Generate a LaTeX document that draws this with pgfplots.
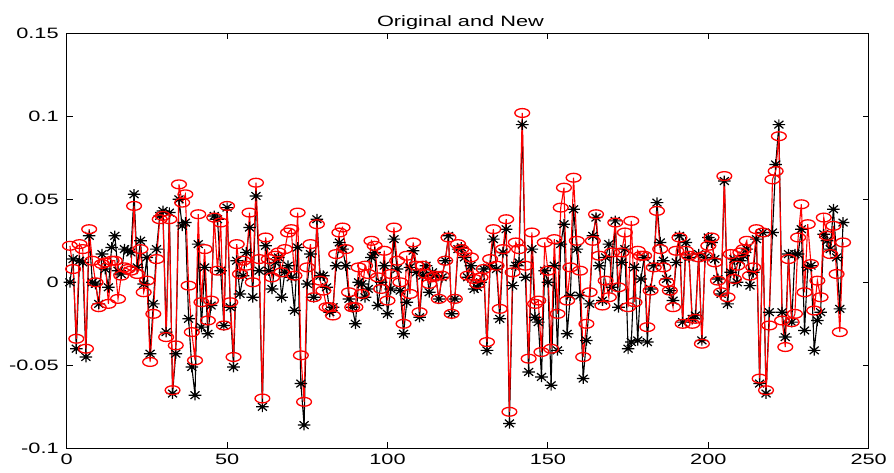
\documentclass[border=0pt]{standalone}
\usepackage{fontspec}
\setmainfont{Liberation Sans}
\usepackage{pgfplots}
\usepackage{pgfplotstable}
\pgfplotsset{compat=1.18}

% MATLAB-like markers (the reference is stretched horizontally)
\pgfdeclareplotmark{mstar}{%
  \pgfpathmoveto{\pgfqpoint{-6.3pt}{0pt}}\pgfpathlineto{\pgfqpoint{6.3pt}{0pt}}%
  \pgfpathmoveto{\pgfqpoint{0pt}{-5.3pt}}\pgfpathlineto{\pgfqpoint{0pt}{5.3pt}}%
  \pgfpathmoveto{\pgfqpoint{-4.5pt}{-3.8pt}}\pgfpathlineto{\pgfqpoint{4.5pt}{3.8pt}}%
  \pgfpathmoveto{\pgfqpoint{-4.5pt}{3.8pt}}\pgfpathlineto{\pgfqpoint{4.5pt}{-3.8pt}}%
  \pgfusepathqstroke}
\pgfdeclareplotmark{mcirc}{%
  \pgfpathellipse{\pgfpointorigin}{\pgfqpoint{7.4pt}{0pt}}{\pgfqpoint{0pt}{4.4pt}}%
  \pgfusepathqstroke}

\pgfplotstableread{
x b r
1 0.000 0.022
2 0.014 0.008
3 -0.040 -0.034
4 0.013 0.023
5 0.012 0.020
6 -0.045 -0.040
7 0.028 0.032
8 0.000 0.013
9 -0.001 0.000
10 -0.013 -0.015
11 0.017 0.011
12 0.008 0.012
13 -0.003 -0.013
14 0.021 0.013
15 0.028 0.013
16 0.007 -0.010
17 0.005 0.004
18 0.020 0.009
19 0.019 0.008
20 0.018 0.007
21 0.053 0.046
22 0.009 0.005
23 0.025 0.020
24 -0.001 -0.006
25 0.015 0.001
26 -0.043 -0.048
27 -0.013 -0.019
28 0.020 0.014
29 0.040 0.038
30 0.043 0.040
31 -0.030 -0.033
32 0.042 0.038
33 -0.067 -0.065
34 -0.043 -0.038
35 0.050 0.059
36 0.034 0.048
37 0.036 0.053
38 -0.022 -0.002
39 -0.051 -0.030
40 -0.068 -0.047
41 0.023 0.041
42 -0.027 -0.012
43 0.009 0.020
44 -0.031 -0.023
45 -0.014 -0.011
46 0.040 0.039
47 0.038 0.007
48 0.007 0.036
49 -0.026 -0.026
50 0.045 0.046
51 -0.015 -0.012
52 -0.051 -0.045
53 0.013 0.023
54 -0.007 0.005
55 0.004 0.013
56 0.018 0.010
57 0.033 0.042
58 -0.009 0.000
59 0.052 0.060
60 0.007 0.014
61 -0.075 -0.070
62 0.022 0.027
63 0.007 0.014
64 -0.004 0.003
65 0.012 0.016
66 0.015 0.018
67 -0.009 0.006
68 0.006 0.020
69 0.010 0.030
70 0.003 0.032
71 -0.017 0.004
72 0.021 0.042
73 -0.061 -0.044
74 -0.086 -0.072
75 -0.001 0.009
76 0.017 0.023
77 -0.009 -0.009
78 0.038 0.035
79 0.004 0.001
80 0.004 -0.005
81 -0.003 -0.015
82 -0.018 -0.015
83 -0.015 -0.020
84 0.010 0.017
85 0.024 0.030
86 0.020 0.033
87 0.010 0.020
88 -0.010 -0.006
89 -0.015 -0.015
90 -0.025 -0.015
91 0.000 0.009
92 -0.001 -0.007
93 -0.009 0.010
94 -0.004 0.005
95 0.015 0.025
96 0.018 0.022
97 -0.014 0.003
98 0.000 -0.004
99 0.010 0.019
100 -0.019 -0.011
101 -0.004 0.005
102 0.026 0.033
103 0.008 0.013
104 -0.005 0.000
105 -0.031 -0.025
106 -0.012 0.016
107 0.009 -0.007
108 0.019 0.024
109 0.006 0.010
110 -0.021 -0.018
111 0.004 0.010
112 0.010 0.005
113 -0.006 -0.001
114 0.006 0.003
115 0.004 0.004
116 -0.010 -0.010
117 0.003 0.004
118 0.013 0.013
119 0.028 0.027
120 -0.019 -0.019
121 -0.010 -0.010
122 0.020 0.023
123 0.021 0.020
124 0.015 0.018
125 0.003 0.004
126 0.010 0.015
127 -0.004 0.002
128 -0.003 -0.001
129 0.000 0.003
130 0.008 0.008
131 -0.041 -0.036
132 0.010 0.014
133 0.026 0.032
134 0.008 0.010
135 -0.022 -0.016
136 0.018 0.020
137 0.032 0.038
138 -0.085 -0.078
139 -0.002 0.006
140 0.010 0.024
141 0.012 0.020
142 0.095 0.102
143 0.003 0.010
144 -0.054 -0.046
145 0.020 0.030
146 -0.021 -0.013
147 -0.024 -0.011
148 -0.057 -0.042
149 0.007 0.024
150 0.000 0.007
151 -0.062 -0.040
152 0.010 0.026
153 -0.041 -0.019
154 0.023 0.045
155 0.035 0.057
156 -0.031 -0.011
157 -0.008 0.009
158 0.044 0.063
159 0.020 0.025
160 -0.008 0.007
161 -0.058 -0.045
162 -0.035 -0.025
163 -0.013 -0.006
164 0.028 0.025
165 0.039 0.041
166 0.010 0.016
167 -0.011 -0.014
168 0.015 0.001
169 0.023 -0.009
170 -0.003 0.018
171 0.037 0.036
172 -0.015 -0.003
173 0.012 0.018
174 0.020 0.030
175 -0.040 -0.015
176 -0.036 0.037
177 0.009 -0.012
178 -0.035 0.019
179 0.002 0.016
180 0.015 0.016
181 -0.036 -0.027
182 -0.004 -0.005
183 0.010 0.009
184 0.048 0.043
185 0.024 0.020
186 0.013 0.009
187 0.002 0.000
188 -0.005 -0.005
189 -0.011 -0.015
190 0.012 0.019
191 0.028 0.027
192 -0.024 -0.025
193 0.024 0.019
194 0.015 0.016
195 -0.022 -0.025
196 -0.020 -0.022
197 0.017 0.015
198 -0.035 -0.037
199 0.015 0.016
200 0.027 0.022
201 0.024 0.027
202 0.014 0.012
203 0.002 0.001
204 -0.007 -0.006
205 0.061 0.064
206 -0.013 -0.009
207 0.006 0.017
208 0.014 0.002
209 0.000 0.010
210 0.013 0.018
211 0.016 0.020
212 0.020 0.025
213 -0.002 0.004
214 0.006 0.009
215 0.026 0.032
216 -0.061 -0.058
217 0.030 0.030
218 -0.067 -0.065
219 -0.018 -0.026
220 0.030 0.062
221 0.071 0.067
222 0.095 0.088
223 -0.018 -0.023
224 -0.033 -0.039
225 0.017 0.014
226 -0.024 -0.024
227 0.017 -0.019
228 0.017 0.027
229 0.032 0.047
230 -0.029 -0.006
231 0.009 0.035
232 0.010 0.011
233 -0.041 -0.017
234 -0.023 0.001
235 -0.018 -0.009
236 0.029 0.039
237 0.025 0.028
238 0.020 0.017
239 0.044 0.034
240 0.015 0.005
241 -0.016 -0.030
242 0.036 0.024
}\datatable

\begin{document}
\begin{tikzpicture}
\useasboundingbox (-66.7pt,-23.7pt) rectangle (827.3pt,448.3pt);
\begin{axis}[
    at={(0pt,0pt)}, anchor=south west,
    scale only axis,
    width=802pt, height=415pt,
    xmin=0, xmax=250, ymin=-0.1, ymax=0.15,
    xtick={0,50,100,150,200,250},
    ytick={-0.1,-0.05,0,0.05,0.1,0.15},
    xticklabels={0,50,100,150,200,250},
    yticklabels={-0.1,-0.05,0,0.05,0.1,0.15},
    tick align=inside,
    major tick length=6pt,
    tick style={black, line width=0.9pt},
    axis line style={black, line width=1.4pt},
    ticklabel style={font=\fontsize{15}{18}\selectfont, xscale=1.45},
    xticklabel style={yshift=-2pt},
    yticklabel style={xshift=-2pt},
    title={Original and New},
    title style={font=\fontsize{15}{18}\selectfont, xscale=1.45, yshift=-6pt, xshift=-5pt},
    clip=false,
]
\addplot[black, line width=1.1pt, mark=mstar, mark options={line width=1.2pt}] table[x=x, y=b] {\datatable};
\addplot[red, line width=1.1pt, mark=mcirc, mark options={line width=1.3pt}] table[x=x, y=r] {\datatable};
\end{axis}
\end{tikzpicture}
\end{document}
